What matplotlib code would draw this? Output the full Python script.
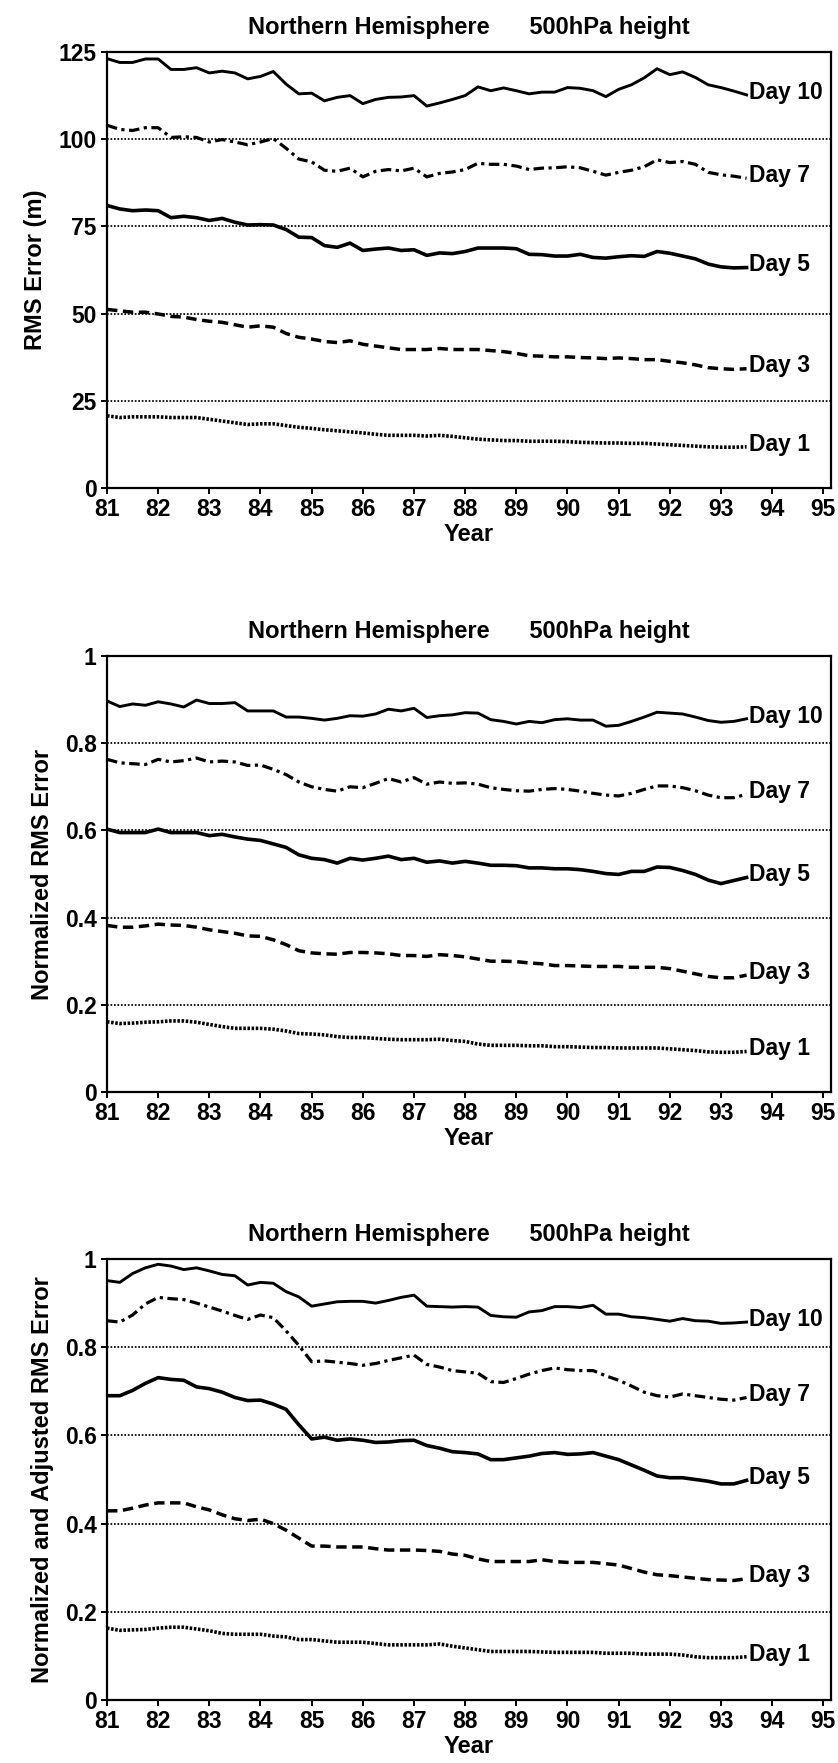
import numpy as np
import matplotlib.pyplot as plt

plt.rcParams['font.family'] = ['Liberation Sans', 'DejaVu Sans']
plt.rcParams['font.weight'] = 'bold'

# quarterly verification points, 1981 to mid 1993
years = np.arange(81, 93.51, 0.25)

# RMS error of 500hPa height (m), Northern Hemisphere
rms_d10 = [123.1, 122.0, 122.0, 123.0, 123.0, 120.0, 120.0, 120.5, 119.0, 119.5, 119.0, 117.3, 118.0,
           119.4, 115.8, 113.0, 113.2, 111.0, 112.0, 112.5, 110.2, 111.4, 112.0, 112.1, 112.5, 109.5,
           110.4, 111.4, 112.5, 115.0, 113.9, 114.7, 113.9, 113.0, 113.5, 113.5, 114.8, 114.6, 113.9,
           112.2, 114.3, 115.6, 117.6, 120.2, 118.5, 119.3, 117.7, 115.6, 114.8, 113.8, 112.7]
rms_d7 = [104.0, 102.8, 102.5, 103.3, 103.3, 100.5, 100.7, 100.5, 99.2, 99.9, 99.2, 98.4, 99.2,
          100.2, 97.4, 94.3, 93.5, 91.1, 90.8, 91.7, 89.2, 90.8, 91.3, 90.9, 91.7, 89.2,
          90.2, 90.6, 91.3, 93.1, 92.8, 92.8, 92.3, 91.3, 91.7, 91.8, 92.1, 91.8, 90.8,
          89.7, 90.5, 91.1, 92.1, 94.1, 93.3, 93.6, 92.8, 90.5, 89.8, 89.4, 88.8]
rms_d5 = [81.0, 80.0, 79.5, 79.7, 79.5, 77.5, 77.9, 77.5, 76.7, 77.3, 76.2, 75.4, 75.5,
          75.4, 74.1, 71.9, 71.8, 69.5, 69.0, 70.2, 68.1, 68.5, 68.8, 68.1, 68.3, 66.7,
          67.4, 67.2, 67.8, 68.8, 68.8, 68.8, 68.6, 67.0, 66.9, 66.5, 66.5, 67.0, 66.1,
          65.9, 66.3, 66.6, 66.4, 67.8, 67.3, 66.5, 65.7, 64.2, 63.4, 63.1, 63.2]
rms_d3 = [51.2, 50.8, 50.4, 50.4, 49.9, 49.2, 49.0, 48.3, 47.8, 47.5, 46.8, 46.1, 46.5,
          46.1, 44.3, 43.2, 42.7, 42.0, 41.7, 42.2, 41.2, 40.7, 40.2, 39.7, 39.7, 39.7,
          40.0, 39.7, 39.7, 39.7, 39.4, 39.1, 38.6, 37.9, 37.8, 37.6, 37.6, 37.4, 37.3,
          37.1, 37.3, 37.1, 36.8, 36.8, 36.3, 35.9, 35.3, 34.5, 34.2, 34.0, 34.2]
rms_d1 = [20.7, 20.2, 20.4, 20.4, 20.4, 20.2, 20.2, 20.2, 19.7, 19.2, 18.7, 18.2, 18.4,
          18.4, 17.9, 17.4, 17.1, 16.7, 16.4, 16.1, 15.8, 15.4, 15.1, 15.1, 15.1, 14.9,
          15.1, 14.8, 14.4, 14.0, 13.8, 13.6, 13.6, 13.4, 13.4, 13.4, 13.3, 13.1, 13.0,
          12.9, 12.9, 12.8, 12.8, 12.6, 12.4, 12.2, 12.0, 11.8, 11.7, 11.7, 11.8]

# normalized RMS error
norm_d10 = [0.897, 0.884, 0.890, 0.887, 0.895, 0.890, 0.883, 0.899, 0.891, 0.891, 0.893, 0.874, 0.874,
            0.874, 0.860, 0.860, 0.857, 0.853, 0.857, 0.863, 0.862, 0.867, 0.878, 0.874, 0.880, 0.859,
            0.863, 0.865, 0.870, 0.869, 0.854, 0.850, 0.844, 0.850, 0.847, 0.854, 0.856, 0.853, 0.853,
            0.839, 0.841, 0.850, 0.860, 0.871, 0.869, 0.867, 0.860, 0.852, 0.848, 0.850, 0.856]
norm_d7 = [0.763, 0.755, 0.753, 0.751, 0.763, 0.757, 0.760, 0.766, 0.757, 0.759, 0.757, 0.749, 0.750,
           0.740, 0.728, 0.711, 0.700, 0.694, 0.690, 0.700, 0.698, 0.708, 0.719, 0.711, 0.721, 0.706,
           0.711, 0.708, 0.709, 0.706, 0.698, 0.694, 0.691, 0.690, 0.694, 0.696, 0.694, 0.690, 0.685,
           0.681, 0.679, 0.685, 0.694, 0.702, 0.702, 0.698, 0.691, 0.681, 0.675, 0.675, 0.683]
norm_d5 = [0.603, 0.595, 0.595, 0.595, 0.603, 0.595, 0.595, 0.595, 0.588, 0.591, 0.585, 0.580, 0.577,
           0.569, 0.561, 0.544, 0.536, 0.533, 0.525, 0.536, 0.532, 0.536, 0.541, 0.533, 0.536, 0.527,
           0.530, 0.525, 0.529, 0.525, 0.520, 0.520, 0.519, 0.514, 0.514, 0.512, 0.512, 0.510, 0.506,
           0.501, 0.499, 0.506, 0.506, 0.516, 0.515, 0.508, 0.499, 0.486, 0.478, 0.485, 0.492]
norm_d3 = [0.382, 0.378, 0.378, 0.381, 0.385, 0.383, 0.382, 0.378, 0.372, 0.368, 0.364, 0.358, 0.357,
           0.349, 0.338, 0.324, 0.319, 0.317, 0.316, 0.320, 0.320, 0.319, 0.317, 0.313, 0.313, 0.311,
           0.315, 0.313, 0.310, 0.305, 0.300, 0.300, 0.299, 0.296, 0.294, 0.290, 0.290, 0.289, 0.288,
           0.288, 0.288, 0.286, 0.286, 0.286, 0.283, 0.277, 0.271, 0.265, 0.262, 0.262, 0.268]
norm_d1 = [0.161, 0.157, 0.158, 0.160, 0.161, 0.163, 0.163, 0.160, 0.155, 0.150, 0.146, 0.146, 0.146,
           0.144, 0.140, 0.134, 0.133, 0.131, 0.127, 0.125, 0.125, 0.123, 0.121, 0.120, 0.120, 0.120,
           0.121, 0.118, 0.116, 0.110, 0.107, 0.107, 0.107, 0.106, 0.106, 0.104, 0.104, 0.103, 0.102,
           0.102, 0.101, 0.101, 0.101, 0.101, 0.099, 0.097, 0.095, 0.092, 0.091, 0.091, 0.093]

# normalized and adjusted RMS error
adj_d10 = [0.951, 0.947, 0.967, 0.980, 0.988, 0.984, 0.976, 0.980, 0.973, 0.965, 0.962, 0.941, 0.947,
           0.945, 0.926, 0.914, 0.893, 0.898, 0.903, 0.904, 0.904, 0.900, 0.906, 0.913, 0.918, 0.893,
           0.892, 0.891, 0.892, 0.891, 0.872, 0.869, 0.868, 0.880, 0.883, 0.892, 0.892, 0.890, 0.895,
           0.875, 0.875, 0.869, 0.867, 0.863, 0.859, 0.865, 0.860, 0.859, 0.854, 0.855, 0.857]
adj_d7 = [0.860, 0.857, 0.873, 0.898, 0.913, 0.910, 0.908, 0.900, 0.891, 0.882, 0.872, 0.863, 0.873,
          0.867, 0.837, 0.804, 0.767, 0.769, 0.766, 0.763, 0.759, 0.763, 0.770, 0.776, 0.782, 0.761,
          0.755, 0.747, 0.744, 0.741, 0.722, 0.720, 0.729, 0.739, 0.747, 0.753, 0.749, 0.747, 0.747,
          0.735, 0.725, 0.712, 0.698, 0.690, 0.687, 0.694, 0.690, 0.686, 0.682, 0.680, 0.686]
adj_d5 = [0.690, 0.690, 0.702, 0.718, 0.731, 0.727, 0.725, 0.710, 0.706, 0.698, 0.686, 0.679, 0.680,
          0.671, 0.659, 0.624, 0.592, 0.596, 0.589, 0.592, 0.589, 0.584, 0.585, 0.588, 0.589, 0.577,
          0.571, 0.563, 0.561, 0.558, 0.545, 0.545, 0.549, 0.553, 0.559, 0.561, 0.557, 0.558, 0.561,
          0.553, 0.545, 0.533, 0.521, 0.508, 0.504, 0.504, 0.500, 0.496, 0.490, 0.490, 0.498]
adj_d3 = [0.429, 0.429, 0.435, 0.442, 0.447, 0.447, 0.447, 0.438, 0.431, 0.420, 0.411, 0.407, 0.410,
          0.400, 0.385, 0.367, 0.349, 0.349, 0.347, 0.347, 0.347, 0.343, 0.340, 0.340, 0.340, 0.339,
          0.337, 0.331, 0.328, 0.320, 0.314, 0.314, 0.314, 0.314, 0.318, 0.314, 0.312, 0.312, 0.312,
          0.309, 0.306, 0.298, 0.290, 0.284, 0.282, 0.279, 0.276, 0.273, 0.272, 0.271, 0.275]
adj_d1 = [0.163, 0.158, 0.159, 0.160, 0.163, 0.165, 0.165, 0.161, 0.157, 0.151, 0.149, 0.149, 0.149,
          0.145, 0.143, 0.137, 0.137, 0.134, 0.131, 0.131, 0.131, 0.128, 0.125, 0.125, 0.125, 0.125,
          0.127, 0.122, 0.118, 0.114, 0.110, 0.110, 0.110, 0.110, 0.109, 0.108, 0.108, 0.108, 0.108,
          0.106, 0.106, 0.106, 0.104, 0.104, 0.104, 0.102, 0.098, 0.096, 0.096, 0.096, 0.098]

day_names = ['Day 10', 'Day 7', 'Day 5', 'Day 3', 'Day 1']
line_styles = [
    dict(ls='-', lw=2.1),
    dict(ls=(0, (3.3, 1.4, 1.0, 1.4)), lw=2.3),
    dict(ls='-', lw=2.6),
    dict(ls=(0, (3.0, 1.6)), lw=2.5),
    dict(ls=(0, (0.7, 0.45)), lw=2.6),
]

xticks = list(range(81, 96))
rms_ticks = [0, 25, 50, 75, 100, 125]
norm_ticks = [0, 0.2, 0.4, 0.6, 0.8, 1]
norm_labels = ['0', '0.2', '0.4', '0.6', '0.8', '1']

panels = [
    ([rms_d10, rms_d7, rms_d5, rms_d3, rms_d1], 'RMS Error (m)', rms_ticks,
     [str(t) for t in rms_ticks], (52, 488)),
    ([norm_d10, norm_d7, norm_d5, norm_d3, norm_d1], 'Normalized RMS Error', norm_ticks,
     norm_labels, (656, 1092)),
    ([adj_d10, adj_d7, adj_d5, adj_d3, adj_d1], 'Normalized and Adjusted RMS Error', norm_ticks,
     norm_labels, (1259, 1700)),
]

W, H = 838, 1763
fig = plt.figure(figsize=(W / 100, H / 100), dpi=100)

for series, ylabel, yticks, ylabels, (top, bottom) in panels:
    ax = fig.add_axes([107 / W, 1 - bottom / H, (831 - 107) / W, (bottom - top) / H])
    # dotted reference lines at the inner ticks
    for v in yticks[1:-1]:
        ax.axhline(v, color='black', lw=1.25, ls=(0, (1, 1)), zorder=1)
    for name, vals, st in zip(day_names, series, line_styles):
        ax.plot(years, vals, color='black', solid_joinstyle='round', zorder=3, **st)
        ax.annotate(name, (years[-1], vals[-1]), xytext=(2, 2), textcoords='offset points',
                    ha='left', va='center', fontsize=16.5, fontweight='bold')
    ax.set_xlim(81, 95.15)
    ax.set_ylim(yticks[0], yticks[-1])
    ax.set_xticks(xticks)
    ax.set_xticklabels([str(x) for x in xticks])
    ax.set_yticks(yticks)
    ax.set_yticklabels(ylabels)
    ax.tick_params(direction='out', length=4.5, width=1.4, labelsize=16.5, pad=3)
    for lab in ax.get_xticklabels() + ax.get_yticklabels():
        lab.set_fontweight('bold')
    for sp in ax.spines.values():
        sp.set_linewidth(1.6)
    ax.set_xlabel('Year', fontsize=17, fontweight='bold', labelpad=1)
    ax.set_ylabel(ylabel, fontsize=17, fontweight='bold', labelpad=8)
    ax.set_title('Northern Hemisphere      500hPa height', fontsize=17, fontweight='bold', pad=13)

fig.savefig('out.png', dpi=100)
